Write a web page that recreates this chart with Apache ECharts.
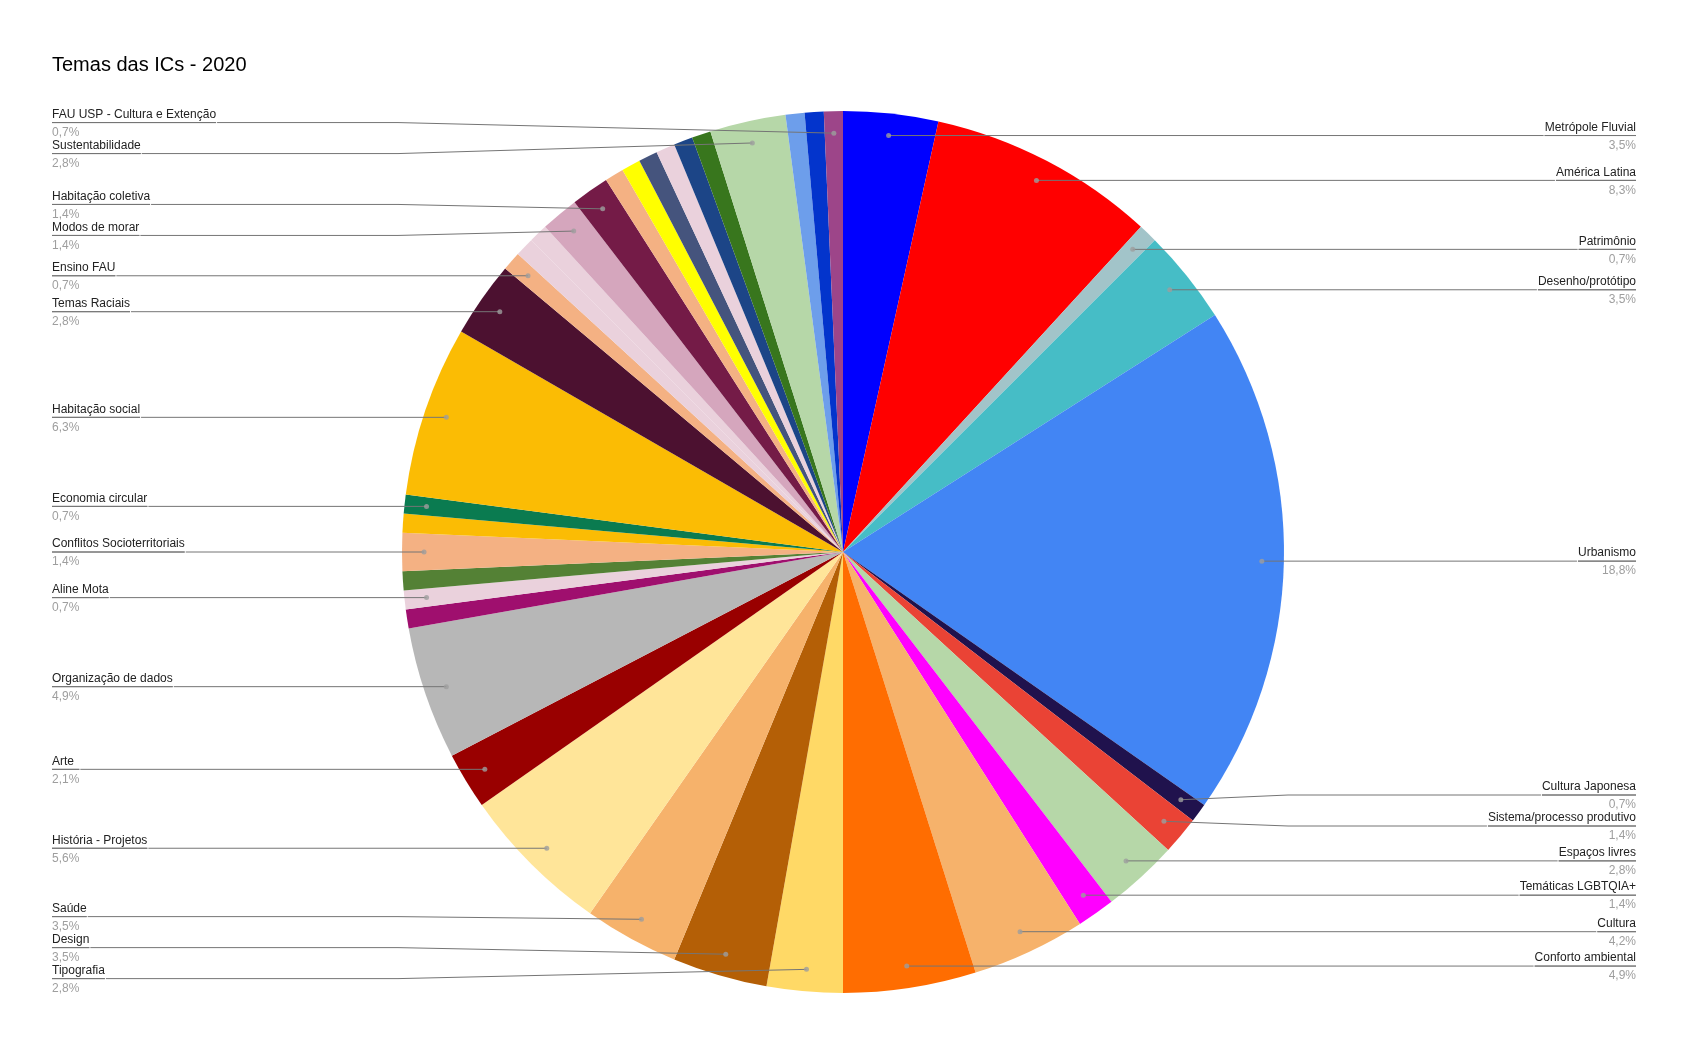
<!DOCTYPE html>
<html>
<head>
<meta charset="utf-8">
<script src="https://cdn.jsdelivr.net/npm/echarts@6/dist/echarts.min.js"></script>
<style>
html,body{margin:0;padding:0;background:#ffffff;}
#chart{width:1688px;height:1047px;}
</style>
</head>
<body>
<div id="chart"></div>
<script>
// Slices in clockwise order starting at 12 o'clock. Empty name = slice without visible label.
const categories = [
  'Metrópole Fluvial', 'América Latina', 'Patrimônio', 'Desenho/protótipo', 'Urbanismo',
  'Cultura Japonesa', 'Sistema/processo produtivo', 'Espaços livres', 'Temáticas LGBTQIA+', 'Cultura',
  'Conforto ambiental', 'Tipografia', 'Design', 'Saúde', 'História - Projetos',
  'Arte', 'Organização de dados', '', 'Aline Mota', '',
  'Conflitos Socioterritoriais', '', 'Economia circular', 'Habitação social', 'Temas Raciais',
  'Ensino FAU', '', '', 'Modos de morar', 'Habitação coletiva',
  '', '', '', '', '',
  '', 'Sustentabilidade', '', '', 'FAU USP - Cultura e Extenção'
];
const counts = [
  5, 12, 1, 5, 27,
  1, 2, 4, 2, 6,
  7, 4, 5, 5, 8,
  3, 7, 1, 1, 1,
  2, 1, 1, 9, 4,
  1, 1, 1, 2, 2,
  1, 1, 1, 1, 1,
  1, 4, 1, 1, 1
];
const palette = [
  '#0000ff', '#ff0000', '#a2c4c9', '#46bdc6', '#4285f4',
  '#20124d', '#ea4335', '#b6d7a8', '#ff00ff', '#f6b26b',
  '#ff6d01', '#ffd966', '#b45f06', '#f6b26b', '#ffe599',
  '#990000', '#b7b7b7', '#9f0f6e', '#ead1dc', '#548135',
  '#f4b183', '#fbbc04', '#0a7b50', '#fbbc04', '#4c1130',
  '#f4b183', '#ead1dc', '#ead1dc', '#d5a6bd', '#741b47',
  '#f4b183', '#ffff00', '#45547d', '#ead1dc', '#1c4587',
  '#38761d', '#b6d7a8', '#6d9eeb', '#0334cc', '#9d4589'
];
const chartTitle = 'Temas das ICs - 2020';

const CX = 843, CY = 552, R = 441, DOT_R = 0.95, LABEL_STEP = 31;
const FONT = '"Liberation Sans", Arial, sans-serif';
const total = counts.reduce((a, b) => a + b, 0);

const pieData = categories.map((n, i) => ({
  name: n, value: counts[i], itemStyle: { color: palette[i] }
}));
const labelData = categories.map((n, i) => ({
  name: n, value: counts[i],
  label: { show: n !== '' },
  labelLine: { show: n !== '' }
}));
let acc = 0;
const dotData = [];
counts.forEach((v, i) => {
  if (categories[i] !== '') dotData.push([DOT_R, acc + v / 2]);
  acc += v;
});

// pass 1: capture the library's label anchor points
const captured = {};
function captureLayout(p) {
  const pts = p.labelLinePoints;
  if (!pts || pts.length < 3) return {};
  captured[p.dataIndex] = { p0: pts[0].slice(), endX: pts[2][0] };
  return {};
}
// balanced vertical spreading of labels on each side
const placed = {};
function spreadLabels() {
  [true, false].forEach(function (leftSide) {
    const items = Object.keys(captured).map(Number)
      .filter(i => (captured[i].endX < CX) === leftSide)
      .map(i => ({ i: i, y: captured[i].p0[1] }))
      .sort((a, b) => a.y - b.y);
    let clusters = items.map(it => ({ members: [it], top: it.y }));
    let changed = true;
    while (changed) {
      changed = false;
      for (let k = 0; k < clusters.length - 1; k++) {
        const a = clusters[k], b = clusters[k + 1];
        if (a.top + a.members.length * LABEL_STEP > b.top) {
          const members = a.members.concat(b.members);
          const mean = members.reduce((s, m) => s + m.y, 0) / members.length;
          clusters.splice(k, 2, { members: members, top: mean - (members.length - 1) / 2 * LABEL_STEP });
          changed = true;
          break;
        }
      }
    }
    clusters.forEach(c => c.members.forEach((m, j) => { placed[m.i] = c.top + j * LABEL_STEP; }));
  });
}
function finalLayout(p) {
  const pts = p.labelLinePoints;
  const c = captured[p.dataIndex];
  if (!pts || pts.length < 3 || !c) return {};
  const y = placed[p.dataIndex];
  const isLeft = c.endX < CX;
  const kx = isLeft ? CX - R - 4 : CX + R + 4;
  return { y: y, labelLinePoints: [pts[0], [kx, y], [pts[2][0], y]] };
}

function buildOption(layoutFn) {
  return {
    animation: false,
    backgroundColor: '#ffffff',
    title: {
      text: chartTitle, left: 52, top: 55, padding: 0,
      textStyle: { fontSize: 20, fontWeight: 'normal', color: '#000000', fontFamily: FONT }
    },
    polar: { center: [CX, CY], radius: R },
    angleAxis: { type: 'value', min: 0, max: total, startAngle: 90, clockwise: true, show: false },
    radiusAxis: { type: 'value', min: 0, max: 1, show: false },
    series: [
      {
        type: 'pie', z: 2, center: [CX, CY], radius: [0, R], startAngle: 90, clockwise: true,
        data: pieData, silent: true, label: { show: false }, labelLine: { show: false },
        itemStyle: { borderWidth: 0 }, emphasis: { disabled: true }
      },
      {
        type: 'pie', z: 5, center: [CX, CY], radius: [0, R * DOT_R], startAngle: 90, clockwise: true,
        data: labelData, silent: true, emphasis: { disabled: true },
        itemStyle: { color: 'rgba(0,0,0,0)', borderWidth: 0 },
        avoidLabelOverlap: true,
        label: {
          position: 'outside', alignTo: 'edge', edgeDistance: 52, distanceToLabelLine: 0,
          overflow: 'none', fontFamily: FONT,
          formatter: function (p) {
            const pct = (p.value / total * 100).toFixed(1).replace('.', ',');
            return '{sp|}\n{n|' + p.name + '}\n{hr|}\n{p|' + pct + '%}';
          },
          rich: {
            sp: { height: 4, lineHeight: 4 },
            n: { fontSize: 12, color: '#222222', lineHeight: 16, fontFamily: FONT },
            hr: { height: 0, lineHeight: 0, width: '100%', borderWidth: 1, borderColor: '#757575' },
            p: { fontSize: 12, color: '#9e9e9e', lineHeight: 20, fontFamily: FONT }
          }
        },
        labelLine: { show: true, length: 0, length2: 0, smooth: false,
          lineStyle: { color: '#757575', width: 1 } },
        labelLayout: layoutFn
      },
      {
        type: 'scatter', coordinateSystem: 'polar', data: dotData, silent: true,
        symbol: 'circle', symbolSize: 5, itemStyle: { color: '#9e9e9e' }, z: 10
      }
    ]
  };
}

const chart = echarts.init(document.getElementById('chart'), null, { renderer: 'canvas' });
chart.setOption(buildOption(captureLayout));
spreadLabels();
chart.setOption(buildOption(finalLayout), true);
</script>
</body>
</html>
